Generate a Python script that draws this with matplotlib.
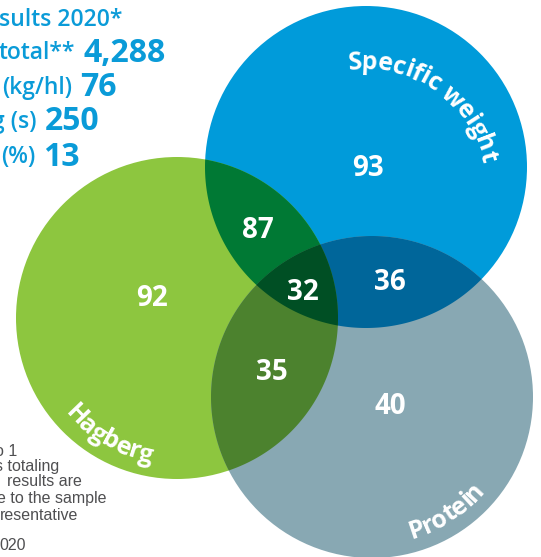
import numpy as np
import matplotlib
matplotlib.use("Agg")
import matplotlib.pyplot as plt
from matplotlib.patches import Circle, Polygon
from matplotlib.font_manager import FontProperties
from matplotlib.textpath import TextToPath

# region counts (Venn of quality criteria)
set_names = ["Specific weight", "Hagberg", "Protein"]
only_sw, only_hag, only_prot = 93, 92, 40
sw_hag, sw_prot, hag_prot = 87, 36, 35
all_three = 32

# headline figures (left part is cut off in the original)
head_labels = ["sults 2020*", "total**", "(kg/hl)", "g (s)", "(%)"]
head_values = ["", "4,288", "76", "250", "13"]

# footnote, also cut off on the left
foot_lines = ["o 1", "s totaling", "results are", "e to the sample",
              "resentative", "020"]

# layout (pixel units, y down)
W, H = 541, 557
circ = {"sw": (366, 167), "hag": (177, 318), "prot": (372, 397)}
R = 161
col = {"sw": "#009bda", "hag": "#8dc63f", "prot": "#88a8b3",
       "sw_hag": "#007934", "sw_prot": "#00669a", "hag_prot": "#4c822e",
       "all": "#004f24"}
blue_txt = "#0a9bd8"

fig = plt.figure(figsize=(W / 100, H / 100), dpi=100)
ax = fig.add_axes([0, 0, 1, 1])
ax.set_xlim(0, W)
ax.set_ylim(H, 0)
ax.axis("off")


def inside(p, c):
    return (p[:, 0] - c[0]) ** 2 + (p[:, 1] - c[1]) ** 2 <= R ** 2 + 1e-6


def region(keys):
    t = np.linspace(0, 2 * np.pi, 3000, endpoint=False)
    pts = []
    for k in keys:
        cx, cy = circ[k]
        p = np.column_stack([cx + R * np.cos(t), cy + R * np.sin(t)])
        ok = np.ones(len(p), bool)
        for o in keys:
            if o != k:
                ok &= inside(p, circ[o])
        pts.append(p[ok])
    pts = np.vstack(pts)
    m = pts.mean(axis=0)
    order = np.argsort(np.arctan2(pts[:, 1] - m[1], pts[:, 0] - m[0]))
    return pts[order]


for k in ["sw", "hag", "prot"]:
    ax.add_patch(Circle(circ[k], R, color=col[k], lw=0))
for keys, c in [(("sw", "hag"), "sw_hag"), (("sw", "prot"), "sw_prot"),
                (("hag", "prot"), "hag_prot"), (("sw", "hag", "prot"), "all")]:
    ax.add_patch(Polygon(region(keys), closed=True, color=col[c], lw=0))

# region numbers
num_font = dict(color="white", fontsize=20, fontweight="bold",
                family="Open Sans", ha="center", va="center")
counts = [only_sw, sw_hag, all_three, sw_prot, only_hag, hag_prot, only_prot]
num_pos = [(368, 168), (258, 230), (303, 292), (390, 282),
           (152, 298), (272, 372), (390, 407)]
for v, (x, y) in zip(counts, num_pos):
    ax.text(x, y, str(v), **num_font)

# curved labels
t2p = TextToPath()


def arc_text(text, cx, cy, r, mid, clockwise, size, track=1.0):
    fp = FontProperties(family="Open Sans", weight="bold", size=size)
    widths = []
    for ch in text:
        w, h, d = t2p.get_text_width_height_descent(ch, fp, ismath=False)
        widths.append(w * 100 / 72 * track)
    span = sum(widths) / r
    cum = 0
    for ch, w in zip(text, widths):
        if clockwise:
            th = np.radians(mid) + span / 2 - (cum + w / 2) / r
            rot = np.degrees(th) - 90
        else:
            th = np.radians(mid) - span / 2 + (cum + w / 2) / r
            rot = np.degrees(th) + 90
        x = cx + r * np.cos(th)
        y = cy - r * np.sin(th)
        ax.text(x, y, ch, fontproperties=fp, color="white", rotation=rot,
                rotation_mode="anchor", ha="center", va="baseline")
        cum += w


arc_text(set_names[0], 365, 189, 120, 55, True, 18, 0.96)
arc_text(set_names[1], 177, 318, 147, 240, False, 18, 0.97)
arc_text(set_names[2], 372, 397, 147, 303, False, 18, 0.97)

# headline block
ys = [20, 53, 88, 122, 157]
vx = [0, 83, 80, 45, 43]
for lab, val, y, x in zip(head_labels, head_values, ys, vx):
    if val:
        ax.text(x - 8, y, lab, color=blue_txt, fontsize=16.5,
                family="Open Sans", fontweight="semibold", ha="right",
                va="center")
        ax.text(x, y, val, color=blue_txt, fontsize=23, family="Open Sans",
                fontweight="bold", ha="left", va="center")
    else:
        ax.text(-1, y, lab, color=blue_txt, fontsize=16.5,
                family="Open Sans", fontweight="semibold", ha="left",
                va="center")

# footnote
foot_x = [-5, -5, 7, -3, 0, -1]
foot_y = [451, 467, 482, 499, 515, 546]
for line, x, y in zip(foot_lines, foot_x, foot_y):
    ax.text(x, y, line, color="#4f4f51", fontsize=11.5,
            family="Liberation Sans", ha="left", va="center")

fig.savefig("out.png", dpi=100)
